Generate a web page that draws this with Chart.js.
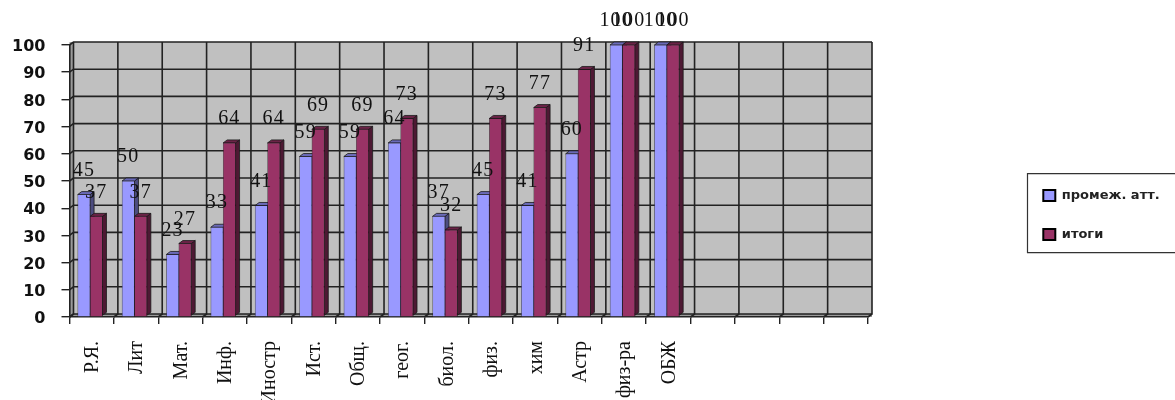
<!DOCTYPE html>
<html><head><meta charset="utf-8">
<style>html,body{margin:0;padding:0;background:#fff;overflow:hidden}canvas{display:block}</style>
<script src="https://cdn.jsdelivr.net/npm/chart.js@4"></script>
</head><body><canvas id="c" width="1175" height="400"></canvas>
<script>
const categories = ["Р.Я.","Лит","Мат.","Инф.","Иностр","Ист.","Общ.","геог.","биол.","физ.","хим","Астр","физ-ра","ОБЖ","","","",""];
const seriesMidterm = [45,50,23,33,41,59,59,64,37,45,41,60,100,100,null,null,null,null];
const seriesFinal = [37,37,27,64,64,69,69,73,32,73,77,91,100,100,null,null,null,null];
const seriesNames = ["промеж. атт.","итоги"];
const colors = ["#9999FF","#993366"];
const sideColors = ["#4d4d80","#4d1933"];
const topColors = ["#6a6ab8","#6b2347"];
const DX = 4, DY = 3, SHIFT = -1.6;

function poly(ctx, pts, fill){
  ctx.beginPath();
  pts.forEach((p,i)=> i?ctx.lineTo(p[0],p[1]):ctx.moveTo(p[0],p[1]));
  ctx.closePath();
  ctx.fillStyle = fill; ctx.fill();
  ctx.lineWidth = .8; ctx.strokeStyle = "#1a1a1a"; ctx.stroke();
}

const scene = {
  id:"scene",
  afterDatasetsUpdate(chart){
    chart.data.datasets.forEach((d,i)=>chart.getDatasetMeta(i).data.forEach(el=>{el.x += SHIFT;}));
  },
  afterLayout(chart){
    const l = chart.legend;
    l.left = 1017.3; l.top = 163;
    l.right = l.left + l.width; l.bottom = l.top + l.height;
  },
  beforeDraw(chart){
    const {ctx, scales:{x,y}} = chart;
    const a = chart.chartArea;
    ctx.save();
    // legend frame
    ctx.strokeStyle = "#333"; ctx.lineWidth = 1.2;
    ctx.beginPath(); ctx.moveTo(1176,173.7); ctx.lineTo(1027.5,173.7); ctx.lineTo(1027.5,252.7); ctx.lineTo(1176,252.7); ctx.stroke();
    // side wall and floor
    ctx.fillStyle = "#9a9a9a";
    ctx.fillRect(a.left, a.top-DY, DX, a.bottom-a.top+DY);
    ctx.fillRect(a.left, a.bottom-DY, a.right-a.left+DX, DY);
    // back wall
    ctx.fillStyle = "#c0c0c0";
    ctx.fillRect(a.left+DX, a.top-DY, a.right-a.left, a.bottom-a.top);
    ctx.strokeStyle = "#222"; ctx.lineWidth = 1.6;
    y.ticks.forEach(t=>{
      const py = y.getPixelForValue(t.value);
      ctx.beginPath(); ctx.moveTo(a.left,py); ctx.lineTo(a.left+DX,py-DY); ctx.lineTo(a.right+DX,py-DY); ctx.stroke();
    });
    categories.forEach((c,i)=>{
      const px = x.getPixelForTick(i) - (x.getPixelForTick(1)-x.getPixelForTick(0))/2;
      ctx.beginPath(); ctx.moveTo(px,a.bottom); ctx.lineTo(px+DX,a.bottom-DY); ctx.lineTo(px+DX,a.top-DY); ctx.stroke();
    });
    ctx.beginPath(); ctx.moveTo(a.right,a.bottom); ctx.lineTo(a.right+DX,a.bottom-DY); ctx.lineTo(a.right+DX,a.top-DY); ctx.stroke();
    ctx.restore();
  },
  beforeDatasetsDraw(chart){
    const ctx = chart.ctx;
    ctx.save();
    chart.data.datasets.forEach((d,i)=>chart.getDatasetMeta(i).data.forEach((el,k)=>{
      if(d.data[k]==null) return;
      const hw = el.width/2, b = el.base-1, t = el.y;
      poly(ctx,[[el.x+hw,t],[el.x+hw+DX,t-DY],[el.x+hw+DX,b-DY],[el.x+hw,b]],sideColors[i]);
      poly(ctx,[[el.x-hw,t],[el.x-hw+DX,t-DY],[el.x+hw+DX,t-DY],[el.x+hw,t]],topColors[i]);
    }));
    ctx.restore();
  },
  afterDatasetsDraw(chart){
    const ctx = chart.ctx;
    ctx.save();
    ctx.font = "20px 'Liberation Serif'";
    ctx.letterSpacing = "1.2px";
    ctx.fillStyle = "#111"; ctx.textAlign = "center"; ctx.textBaseline = "middle";
    chart.data.datasets.forEach((d,i)=>chart.getDatasetMeta(i).data.forEach((el,k)=>{
      if(d.data[k]==null) return;
      ctx.fillText(String(d.data[k]), el.x, el.y-24);
    }));
    ctx.restore();
  }
};

new Chart(document.getElementById("c"),{
  type:"bar",
  data:{labels:categories,datasets:[
    {label:seriesNames[0],data:seriesMidterm,backgroundColor:colors[0],borderColor:"rgba(30,30,50,.6)",borderWidth:.8,barThickness:12.4},
    {label:seriesNames[1],data:seriesFinal,backgroundColor:colors[1],borderColor:"rgba(30,10,20,.6)",borderWidth:.8,barThickness:12.4}
  ]},
  plugins:[scene],
  options:{
    responsive:false,animation:false,devicePixelRatio:1,
    layout:{padding:{left:0,top:45,right:307,bottom:0}},
    plugins:{
      tooltip:{enabled:false},
      legend:{
        display:true,position:"chartArea",align:"start",
        labels:{
          boxWidth:12,boxHeight:11,padding:26,color:"#222",
          font:{family:"'DejaVu Sans'",size:13,weight:"bold"},
          generateLabels(chart){
            return chart.data.datasets.map((d,i)=>({text:d.label,fillStyle:d.backgroundColor,strokeStyle:"#000",lineWidth:2,datasetIndex:i,fontColor:"#222"}));
          }
        }
      }
    },
    scales:{
      x:{
        afterFit(s){s.height=83;},
        grid:{drawOnChartArea:false,drawTicks:true,tickLength:7,color:"#222",lineWidth:1.4},
        border:{display:true,color:"#222",width:1.6},
        ticks:{autoSkip:false,maxRotation:90,minRotation:90,align:"end",padding:17,labelOffset:1,color:"#111",font:{family:"'Liberation Serif'",size:20}}
      },
      y:{
        min:0,max:100,
        afterFit(s){s.width=69.5;},
        grid:{drawOnChartArea:false,drawTicks:true,tickLength:8,color:"#222",lineWidth:1.4},
        border:{display:true,color:"#222",width:1.6},
        ticks:{stepSize:10,padding:16,labelOffset:2,color:"#111",font:{family:"'DejaVu Sans'",size:16,weight:"bold"}}
      }
    }
  }
});
</script></body></html>
